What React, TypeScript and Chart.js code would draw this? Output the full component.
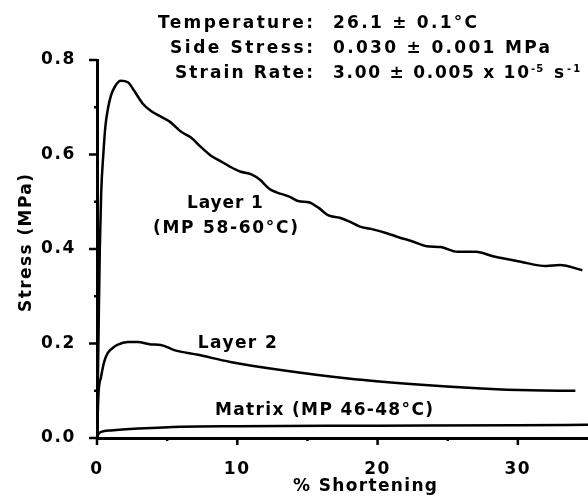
import React, { useEffect, useRef } from "react";
import { Chart, registerables } from "chart.js";

Chart.register(...registerables);

// ---------- data ----------
const layer1X = [0, 0.1, 0.2, 0.3, 0.45, 0.6, 0.8, 1.0, 1.3, 1.7, 2.2, 2.65, 3.25, 3.85, 4.55, 5.25, 6.0, 6.7, 7.4, 8.1, 8.8, 9.5, 10.2, 11.0, 11.6, 12.3, 12.8, 13.7, 14.4, 15.1, 15.8, 16.5, 17.3, 18.0, 18.7, 19.6, 20.6, 21.5, 22.5, 23.5, 24.5, 25.7, 27.0, 28.3, 30.2, 32.0, 33.0, 34.6];
const layer1Y = [0, 0.2, 0.4, 0.52, 0.6, 0.66, 0.7, 0.725, 0.745, 0.756, 0.753, 0.735, 0.708, 0.692, 0.68, 0.668, 0.648, 0.636, 0.616, 0.598, 0.586, 0.574, 0.564, 0.558, 0.547, 0.527, 0.52, 0.511, 0.501, 0.499, 0.487, 0.471, 0.466, 0.458, 0.448, 0.442, 0.434, 0.425, 0.416, 0.406, 0.404, 0.394, 0.394, 0.384, 0.373, 0.364, 0.366, 0.355];

const layer2X = [0, 0.05, 0.12, 0.28, 0.5, 0.75, 1.1, 1.45, 2.2, 2.9, 3.85, 4.55, 5.5, 7.2, 9.5, 13.1, 17.9, 22.6, 27.4, 30.9, 34.1];
const layer2Y = [0, 0.05, 0.1, 0.128, 0.16, 0.179, 0.19, 0.197, 0.203, 0.203, 0.198, 0.197, 0.186, 0.176, 0.161, 0.144, 0.126, 0.114, 0.105, 0.101, 0.1];

const matrixX = [0, 0.1, 0.3, 1, 3, 6, 10, 20, 30, 35];
const matrixY = [0, 0.008, 0.013, 0.016, 0.02, 0.024, 0.025, 0.026, 0.027, 0.028];

const xMajorTicks = [0, 10, 20, 30];
const xMinorTicks = [5, 15, 25];
const yMajorTicks = [0, 0.2, 0.4, 0.6, 0.8];
const yMinorTicks = [0.1, 0.3, 0.5, 0.7];

const headerLabels = ["Temperature:", "Side Stress:", "Strain Rate:"];
const headerValues = ["26.1 \u00b1 0.1\u00b0C", "0.030 \u00b1 0.001 MPa", "3.00 \u00b1 0.005 x 10"];
const rateExponent = "-5";
const rateUnit = "s";
const rateUnitExponent = "-1";

const curveLabels = ["Layer 1", "(MP 58-60\u00b0C)", "Layer 2", "Matrix (MP 46-48\u00b0C)"];
const curveLabelX = [9.12, 9.16, 10.0, 16.18];
const curveLabelY = [0.487, 0.434, 0.19, 0.049];

const xTitle = "% Shortening";
const yTitle = "Stress (MPa)";

// ---------- styles ----------
const FAMILY = '"DejaVu Sans", Arial, Helvetica, sans-serif';
const curveLabelWidths = [76, 145, 79, 218];
const headerLabelWidths = [155, 143, 138];
const headerValueWidths = [144, 217, 196];
const headerBaselines = [28, 53, 77.5];

function fitText(ctx: CanvasRenderingContext2D, text: string, x0: number, yBase: number, width: number, size: number) {
  ctx.font = `bold ${size}px ${FAMILY}`;
  (ctx as any).letterSpacing = "0px";
  const w = ctx.measureText(text).width;
  const n = Array.from(text).length;
  const s = n > 1 ? (width - w) / (n - 1) : 0;
  (ctx as any).letterSpacing = `${s}px`;
  ctx.textAlign = "left";
  ctx.textBaseline = "alphabetic";
  ctx.fillText(text, x0, yBase);
  (ctx as any).letterSpacing = "0px";
}

const decorPlugin = {
  id: "decor",
  beforeDraw(chart: any) {
    (chart.ctx as any).letterSpacing = "1.6px";
  },
  afterDraw(chart: any) {
    const ctx: CanvasRenderingContext2D = chart.ctx;
    const xs = chart.scales.x;
    const ys = chart.scales.y;
    const area = chart.chartArea;
    ctx.save();
    ctx.fillStyle = "#000";
    ctx.strokeStyle = "#000";
    ctx.lineWidth = 2.5;
    ctx.lineCap = "butt";
    // tick marks
    const tick = (vals: number[], len: number, horiz: boolean) => {
      vals.forEach((v) => {
        ctx.beginPath();
        if (horiz) {
          const p = xs.getPixelForValue(v);
          ctx.moveTo(p, area.bottom);
          ctx.lineTo(p, area.bottom + len);
        } else {
          const p = ys.getPixelForValue(v);
          ctx.moveTo(area.left, p);
          ctx.lineTo(area.left - len, p);
        }
        ctx.stroke();
      });
    };
    tick(xMajorTicks, 7, true);
    tick(xMinorTicks, 3, true);
    tick(yMajorTicks, 8, false);
    tick(yMinorTicks, 3, false);

    // header
    headerLabels.forEach((t, i) => {
      const w = headerLabelWidths[i];
      fitText(ctx, t, 313 - w, headerBaselines[i], w, 17);
      fitText(ctx, headerValues[i], 333, headerBaselines[i], headerValueWidths[i], 17);
    });
    // exponents on the strain-rate row
    ctx.font = `bold 10px ${FAMILY}`;
    (ctx as any).letterSpacing = "1px";
    ctx.textAlign = "left";
    ctx.fillText(rateExponent, 531, 72);
    fitText(ctx, rateUnit, 554, headerBaselines[2], 10, 17);
    ctx.font = `bold 10px ${FAMILY}`;
    (ctx as any).letterSpacing = "2px";
    ctx.fillText(rateUnitExponent, 567, 72);
    (ctx as any).letterSpacing = "0px";

    // curve labels
    curveLabels.forEach((t, i) => {
      const cx = xs.getPixelForValue(curveLabelX[i]);
      const by = ys.getPixelForValue(curveLabelY[i]);
      const w = curveLabelWidths[i];
      fitText(ctx, t, cx - w / 2, by, w, 17);
    });

    // axis titles
    fitText(ctx, xTitle, 293, 491, 144, 17);
    ctx.save();
    ctx.translate(31, 243);
    ctx.rotate(-Math.PI / 2);
    fitText(ctx, yTitle, -69, 0, 138, 17);
    ctx.restore();

    ctx.restore();
    (ctx as any).letterSpacing = "0px";
  },
};

export default function App() {
  const ref = useRef<HTMLCanvasElement | null>(null);
  useEffect(() => {
    if (!ref.current) return;
    const pts = (xs: number[], ys: number[]) => xs.map((x, i) => ({ x, y: ys[i] }));
    const lineStyle = {
      borderColor: "#000",
      borderWidth: 2.5,
      pointRadius: 0,
      fill: false,
      cubicInterpolationMode: "monotone" as const,
    };
    const tickFont = { family: FAMILY, size: 17, weight: "bold" as const };
    const chart = new Chart(ref.current, {
      type: "line",
      data: {
        datasets: [
          { label: "Layer 1", data: pts(layer1X, layer1Y), ...lineStyle },
          { label: "Layer 2", data: pts(layer2X, layer2Y), ...lineStyle },
          { label: "Matrix", data: pts(matrixX, matrixY), ...lineStyle },
        ],
      },
      options: {
        animation: false,
        responsive: false,
        devicePixelRatio: 1,
        events: [],
        layout: { padding: { top: 60, right: 0, left: 0, bottom: 0 } },
        plugins: { legend: { display: false }, tooltip: { enabled: false } },
        scales: {
          x: {
            type: "linear",
            min: 0,
            max: 35,
            afterFit: (s: any) => {
              s.height = 58;
            },
            afterBuildTicks: (s: any) => {
              s.ticks = xMajorTicks.map((v) => ({ value: v }));
            },
            grid: { display: false },
            border: { display: true, color: "#000", width: 3 },
            ticks: {
              color: "#000",
              font: tickFont,
              padding: 13,
              maxRotation: 0,
              autoSkip: false,
              callback: (v: any) => String(v),
            },
          },
          y: {
            type: "linear",
            min: 0,
            max: 0.8,
            afterFit: (s: any) => {
              s.width = 97;
            },
            afterBuildTicks: (s: any) => {
              s.ticks = yMajorTicks.map((v) => ({ value: v }));
            },
            grid: { display: false },
            border: { display: true, color: "#000", width: 3 },
            ticks: {
              color: "#000",
              font: tickFont,
              padding: 13,
              autoSkip: false,
              callback: (v: any) => Number(v).toFixed(1),
            },
          },
        },
      },
      plugins: [decorPlugin],
    });
    return () => chart.destroy();
  }, []);
  return (
    <div style={{ position: "absolute", left: 0, top: 0, width: 588, height: 496, background: "#fff" }}>
      <canvas ref={ref} width={588} height={496} style={{ display: "block" }} />
    </div>
  );
}
